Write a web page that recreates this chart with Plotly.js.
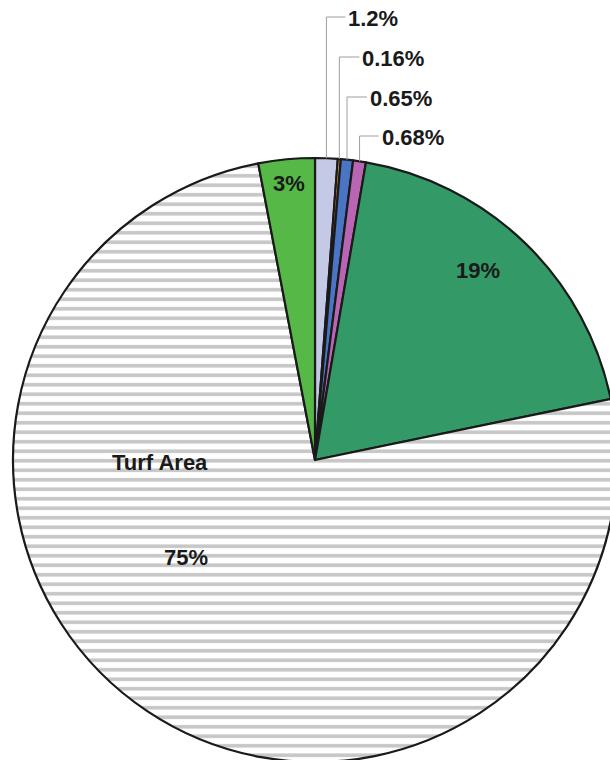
<!DOCTYPE html>
<html>
<head>
<meta charset="utf-8">
<script src="https://cdn.plot.ly/plotly-3.0.1.min.js"></script>
<style>
  html, body { margin: 0; padding: 0; overflow: hidden; background: #ffffff; }
  #chart { width: 630px; height: 770px; }
</style>
</head>
<body>
<div id="chart"></div>
<script>
// ---- data ----
const categories = ['Category A', 'Category B', 'Category C', 'Category D', 'Category E', 'Turf Area', 'Category F'];
const values = [1.2, 0.16, 0.65, 0.68, 19, 75, 3];
const percentLabels = ['1.2%', '0.16%', '0.65%', '0.68%', '19%', '75%', '3%'];
const sliceColors = ['#c4cae6', '#f0a23a', '#4a74c4', '#b866b4', '#339966', '#ffffff', '#55b847'];
const slicePatterns = ['', '', '', '', '', '-', ''];

// ---- layout geometry ----
const W = 630, H = 770;
const cx = 315, cy = 460, R = 302;
const px = x => x / W;
const py = y => (H - y) / H;

// outer label layout (small slices: indices 0..3)
const outerIdx = [0, 1, 2, 3];
const outerLabelY = [17, 57, 97, 136];
const outerLineLen = [19, 20, 20, 19];

// inner label positions (pixels)
const innerLabels = [
  {text: percentLabels[4], x: 478, y: 270},
  {text: percentLabels[6], x: 289, y: 183},
  {text: categories[5], x: 160, y: 462},
  {text: percentLabels[5], x: 186, y: 557}
];

const total = values.reduce((a, b) => a + b, 0);
const cum = [];
let acc = 0;
values.forEach(v => { cum.push(acc); acc += v; });

const font = {family: 'Liberation Sans, Arial, sans-serif', size: 22, color: '#1a1a1a', weight: 'bold'};

const shapes = [];
const annotations = [];
outerIdx.forEach((i, k) => {
  const mid = (cum[i] + values[i] / 2) / total * 2 * Math.PI;
  const ax = cx + R * Math.sin(mid);
  const ay = cy - R * Math.cos(mid);
  const ly = outerLabelY[k];
  const ex = ax + outerLineLen[k];
  shapes.push({type: 'path', xref: 'paper', yref: 'paper',
    path: `M ${px(ax)} ${py(ay)} L ${px(ax)} ${py(ly)} L ${px(ex)} ${py(ly)}`,
    line: {color: '#9e9e9e', width: 1}});
  annotations.push({xref: 'paper', yref: 'paper', x: px(ex + 1), y: py(ly + 1),
    xanchor: 'left', yanchor: 'middle', text: percentLabels[i], showarrow: false, font: font});
});
innerLabels.forEach(l => {
  annotations.push({xref: 'paper', yref: 'paper', x: px(l.x), y: py(l.y),
    xanchor: 'center', yanchor: 'middle', text: l.text, showarrow: false, font: font});
});

const trace = {
  type: 'pie',
  labels: categories,
  values: values,
  sort: false,
  direction: 'clockwise',
  rotation: 0,
  textinfo: 'none',
  hoverinfo: 'skip',
  domain: {x: [px(cx - R), px(cx + R)], y: [py(cy + R), py(cy - R)]},
  marker: {
    colors: sliceColors,
    line: {color: '#1a1a1a', width: 2.2},
    pattern: {shape: slicePatterns, fgcolor: '#c6c6c6', bgcolor: '#ffffff', size: 9.5, solidity: 0.38}
  }
};

const layout = {
  width: W, height: H,
  margin: {l: 0, r: 0, t: 0, b: 0},
  paper_bgcolor: '#ffffff',
  plot_bgcolor: '#ffffff',
  showlegend: false,
  shapes: shapes,
  annotations: annotations
};

Plotly.newPlot('chart', [trace], layout, {staticPlot: true, displayModeBar: false});
</script>
</body>
</html>
